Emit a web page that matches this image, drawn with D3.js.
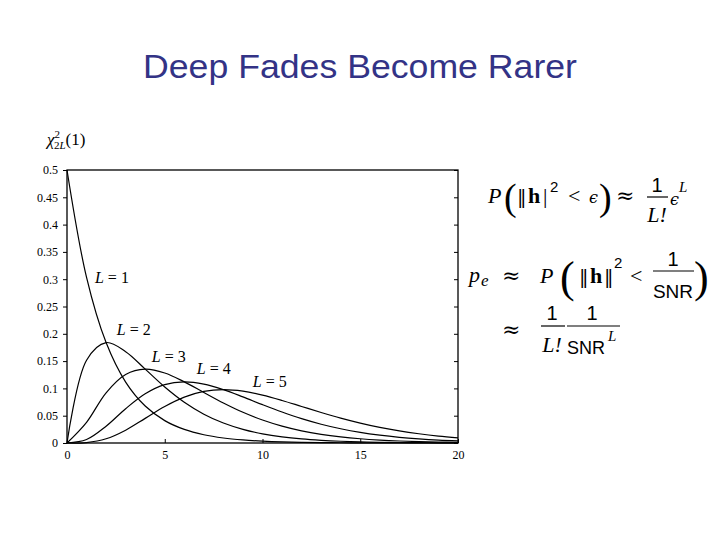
<!DOCTYPE html>
<html>
<head>
<meta charset="utf-8">
<script src="https://cdn.jsdelivr.net/npm/d3@7"></script>
<style>
  body { margin: 0; background: #fff; }
  svg { display: block; }
  .tick text { font-family: "Liberation Serif", serif; font-size: 12px; fill: #000; }
</style>
</head>
<body>
<script>
// chi-square pdf with 2L degrees of freedom
const xs = [0, 1, 2, 3, 4, 5, 6, 7, 8, 9, 10, 11, 12, 13, 14, 15, 16, 17, 18, 19, 20];
const L1 = [0.5, 0.3033, 0.1839, 0.1116, 0.0677, 0.0410, 0.0249, 0.0151, 0.0092, 0.0056, 0.0034, 0.0020, 0.0012, 0.0008, 0.0005, 0.0003, 0.0002, 0.0001, 0.0001, 0.0000, 0.0000];
const L2 = [0, 0.1516, 0.1839, 0.1673, 0.1353, 0.1026, 0.0747, 0.0528, 0.0366, 0.0250, 0.0168, 0.0112, 0.0074, 0.0049, 0.0032, 0.0021, 0.0013, 0.0009, 0.0006, 0.0004, 0.0002];
const L3 = [0, 0.0379, 0.0920, 0.1255, 0.1353, 0.1283, 0.1120, 0.0925, 0.0733, 0.0562, 0.0421, 0.0309, 0.0223, 0.0159, 0.0112, 0.0078, 0.0054, 0.0037, 0.0025, 0.0017, 0.0011];
const L4 = [0, 0.0063, 0.0307, 0.0628, 0.0902, 0.1069, 0.1120, 0.1079, 0.0977, 0.0844, 0.0702, 0.0567, 0.0446, 0.0344, 0.0261, 0.0194, 0.0143, 0.0104, 0.0075, 0.0053, 0.0038];
const L5 = [0, 0.0008, 0.0077, 0.0235, 0.0451, 0.0668, 0.0840, 0.0944, 0.0977, 0.0949, 0.0877, 0.0779, 0.0669, 0.0559, 0.0456, 0.0365, 0.0286, 0.0221, 0.0169, 0.0127, 0.0095];
const seriesNames = ['1', '2', '3', '4', '5'];
const xTicks = [0, 5, 10, 15, 20];
const yTicks = [0, 0.05, 0.1, 0.15, 0.2, 0.25, 0.3, 0.35, 0.4, 0.45, 0.5];
const yTickLabels = ['0', '0.05', '0.1', '0.15', '0.2', '0.25', '0.3', '0.35', '0.4', '0.45', '0.5'];

const W = 720, H = 540;
const svg = d3.select('body').append('svg')
  .attr('width', W)
  .attr('height', H);

svg.append('rect').attr('width', W).attr('height', H).attr('fill', '#fff');

svg.append('text')
  .attr('x', 360)
  .attr('y', 78)
  .attr('text-anchor', 'middle')
  .attr('font-family', 'Liberation Sans, Arial, sans-serif')
  .attr('font-size', 33)
  .attr('textLength', 434)
  .attr('lengthAdjust', 'spacingAndGlyphs')
  .attr('fill', '#333386')
  .text('Deep Fades Become Rarer');

const x = d3.scaleLinear().domain([0, 20]).range([67, 458]);
const y = d3.scaleLinear().domain([0, 0.5]).range([443, 170]);

// axes
svg.append('g')
  .attr('transform', `translate(${x(0)},0)`)
  .call(d3.axisLeft(y).tickValues(yTicks).tickSize(4).tickPadding(5)
    .tickFormat((d, i) => yTickLabels[i]))
  .call(g => g.select('.domain').remove());

svg.append('g')
  .attr('transform', `translate(${x(20)},0)`)
  .call(d3.axisRight(y).tickValues(yTicks).tickSize(-4).tickFormat(''))
  .call(g => g.select('.domain').remove());

svg.append('g')
  .attr('transform', `translate(0,${y(0)})`)
  .call(d3.axisBottom(x).tickValues(xTicks).tickSizeInner(-4).tickSizeOuter(0).tickPadding(7))
  .call(g => g.select('.domain').remove());

svg.append('rect')
  .attr('x', x(0)).attr('y', y(0.5))
  .attr('width', x(20) - x(0)).attr('height', y(0) - y(0.5))
  .attr('fill', 'none').attr('stroke', '#000').attr('stroke-width', 1.3);

// curves
const line = d3.line()
  .x((d, i) => x(xs[i]))
  .y(d => y(d))
  .curve(d3.curveCatmullRom);

[L1, L2, L3, L4, L5].forEach(s => {
  svg.append('path')
    .datum(s)
    .attr('fill', 'none')
    .attr('stroke', '#000')
    .attr('stroke-width', 1.2)
    .attr('d', line);
});

// curve labels (data coords)
const labelPos = [[1.43, 0.293], [2.55, 0.198], [4.34, 0.148], [6.64, 0.126], [9.5, 0.102]];
seriesNames.forEach((n, i) => {
  const t = svg.append('text')
    .attr('x', x(labelPos[i][0]))
    .attr('y', y(labelPos[i][1]))
    .attr('font-family', 'Liberation Serif, serif')
    .attr('font-size', 16);
  t.append('tspan').attr('font-style', 'italic').text('L');
  t.append('tspan').text(' = ' + n);
});

// y label chi^2_{2L}(1)
const yl = svg.append('text')
  .attr('x', 47).attr('y', 145)
  .attr('font-family', 'Liberation Serif, serif')
  .attr('font-size', 17);
yl.append('tspan').attr('font-style', 'italic').text('χ');
yl.append('tspan').attr('font-size', 11).attr('dy', -7).text('2');
yl.append('tspan').attr('font-size', 11).attr('dx', -6).attr('dy', 11).text('2');
yl.append('tspan').attr('font-size', 11).attr('font-style', 'italic').text('L');
yl.append('tspan').attr('dy', -4).text('(1)');

// formulas
const serif = 'Liberation Serif, serif';
const sans = 'Liberation Sans, Arial, sans-serif';
function tx(px, py, s, opts) {
  opts = opts || {};
  return svg.append('text')
    .attr('x', px).attr('y', py)
    .attr('font-family', opts.fam || serif)
    .attr('font-size', opts.size || 22)
    .attr('font-style', opts.it ? 'italic' : null)
    .attr('font-weight', opts.bold ? 'bold' : null)
    .attr('text-anchor', opts.anchor || null)
    .text(s);
}
function bar(x1, x2, yy) {
  svg.append('line').attr('x1', x1).attr('x2', x2).attr('y1', yy).attr('y2', yy)
    .attr('stroke', '#000').attr('stroke-width', 1.2);
}

// line 1
tx(488, 203, 'P', { it: true });
tx(504, 210, '(', { size: 38 });
tx(517, 203, '‖', { fam: 'DejaVu Serif, serif', size: 19 });
tx(528, 203, 'h', { bold: true });
tx(543, 203, '|', { size: 22 });
tx(550, 192, '2', { fam: sans, size: 15 });
tx(568, 203, '<', { size: 22 });
tx(589, 203, 'ϵ', { fam: 'DejaVu Serif, serif', it: true, size: 16 });
tx(599, 210, ')', { size: 38 });
tx(616, 203, '≈', { fam: 'DejaVu Serif, serif', size: 22 });
tx(657, 192, '1', { fam: sans, size: 20, anchor: 'middle' });
bar(647, 668, 197);
tx(657, 222, 'L!', { it: true, anchor: 'middle' });
tx(670, 205, 'ϵ', { fam: 'DejaVu Serif, serif', it: true, size: 16 });
tx(679, 192, 'L', { it: true, size: 15 });

// line 2
tx(469, 282, 'p', { it: true });
tx(481, 286, 'e', { it: true, size: 17 });
tx(502, 283, '≈', { fam: 'DejaVu Serif, serif', size: 22 });
tx(540, 283, 'P', { it: true });
tx(560, 292, '(', { size: 44 });
tx(579, 283, '‖', { fam: 'DejaVu Serif, serif', size: 19 });
tx(590, 283, 'h', { bold: true });
tx(604, 283, '‖', { fam: 'DejaVu Serif, serif', size: 19 });
tx(614, 268, '2', { fam: sans, size: 15 });
tx(630, 283, '<', { size: 22 });
tx(673, 266, '1', { fam: sans, size: 20, anchor: 'middle' });
bar(653, 694, 271);
tx(673, 298, 'SNR', { fam: sans, size: 19, anchor: 'middle' });
tx(694, 292, ')', { size: 44 });

// line 3
tx(502, 337, '≈', { fam: 'DejaVu Serif, serif', size: 22 });
tx(552, 320, '1', { fam: sans, size: 20, anchor: 'middle' });
bar(541, 565, 326);
tx(552, 352, 'L!', { it: true, anchor: 'middle' });
tx(592, 320, '1', { fam: sans, size: 20, anchor: 'middle' });
bar(567, 620, 326);
tx(567, 354, 'SNR', { fam: sans, size: 18 });
tx(608, 341, 'L', { it: true, size: 15 });
</script>
</body>
</html>
